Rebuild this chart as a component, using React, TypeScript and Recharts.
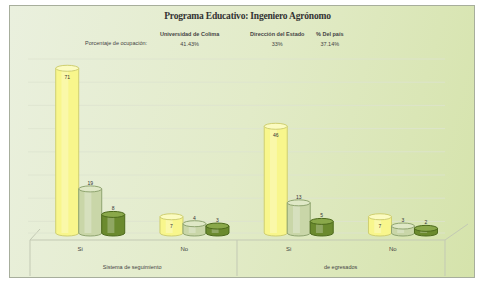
import { BarChart, Bar, XAxis, YAxis, CartesianGrid, LabelList } from "recharts";

const respuestas = ["Si", "No", "Si", "No"];
const grupos = ["Sistema de seguimiento", "", "de egresados", ""];
const universidad = [71, 7, 46, 7];
const estado = [19, 4, 13, 3];
const pais = [8, 3, 5, 2];

const leyenda = [
  { nombre: "Universidad de Colima", valor: "41.43%" },
  { nombre: "Dirección del Estado", valor: "33%" },
  { nombre: "% Del país", valor: "37.14%" },
];

const data = respuestas.map((r, i) => ({
  resp: r,
  grupo: grupos[i],
  universidad: universidad[i],
  estado: estado[i],
  pais: pais[i],
}));

const yTicks = Array.from({ length: 31 }, (_, i) => i * 2.5);

// perspective shift of the 3D bars relative to the category labels
const DX = 10;

const Cylinder = (colors: { body: string; edge: string; top: string }) => (props: any) => {
  const { y, width, height } = props;
  const x = props.x + DX;
  if (!height || height <= 0) return null;
  const rx = width / 2;
  const ry = Math.min(3, width / 6);
  const cx = x + rx;
  return (
    <g>
      <path
        d={`M${x},${y} L${x},${y + height} A${rx},${ry} 0 0 0 ${x + width},${y + height} L${x + width},${y} Z`}
        fill={colors.body}
        stroke={colors.edge}
        strokeWidth={1}
      />
      <rect x={x + width * 0.25} y={y} width={width * 0.3} height={height} fill="#ffffff" opacity={0.25} />
      <ellipse cx={cx} cy={y} rx={rx} ry={ry} fill={colors.top} stroke={colors.edge} strokeWidth={1} />
    </g>
  );
};

const yellow = { body: "#f8f68c", edge: "#cfcf70", top: "#fbfbc0" };
const light = { body: "#c9d6a8", edge: "#8fa470", top: "#dfe8c6" };
const dark = { body: "#6b8a2e", edge: "#4d6a1c", top: "#8aa84a" };

const RespTick = (props: any) => {
  const { x, y, payload } = props;
  return (
    <text x={x} y={y + 10} textAnchor="middle" fontSize={6} fill="#444" fontFamily="Liberation Sans">
      {payload.value}
    </text>
  );
};

const GrupoTick = (props: any) => {
  const { x, y, payload } = props;
  if (!payload.value) return null;
  return (
    <text x={x + 52} y={y + 8} textAnchor="middle" fontSize={5.5} fill="#444" fontFamily="Liberation Sans">
      {payload.value}
    </text>
  );
};

const ValueLabel = (props: any) => {
  const { x, y, width, value, inside } = props;
  return (
    <text
      x={x + DX + width / 2}
      y={inside ? y + 11 : y - 4}
      textAnchor="middle"
      fontSize={5}
      fill="#333"
      fontFamily="Liberation Sans"
    >
      {value}
    </text>
  );
};

export default function App() {
  return (
    <div style={{ position: "absolute", left: 0, top: 0, width: 479, height: 281, background: "#ffffff" }}>
      <div
        style={{
          position: "absolute",
          left: 9,
          top: 5,
          width: 464,
          height: 271,
          border: "1px solid #a7ae9c",
          background: "linear-gradient(105deg, #eaf0de 0%, #e2ebc8 50%, #d5e3ab 100%)",
        }}
      />
      <svg style={{ position: "absolute", left: 0, top: 0 }} width={479} height={281}>
        <g stroke="#c3c9b4" strokeWidth={1} fill="none">
          <path d="M30,240 L445,240 L468,224" />
          <path d="M30,240 L40,229" />
          <path d="M30,240 L30,276" />
          <path d="M237,240 L237,276" />
          <path d="M445,240 L445,276" />
        </g>
      </svg>
      <div style={{ position: "absolute", left: 0, top: 0 }}>
        <BarChart
          width={479}
          height={281}
          data={data}
          margin={{ top: 59, right: 34, bottom: 0, left: 28 }}
          barGap={0}
          barCategoryGap="17%"
        >
          <CartesianGrid vertical={false} stroke="#dde3cf" strokeWidth={0.8} />
          <YAxis hide domain={[0, 75]} ticks={yTicks} />
          <XAxis dataKey="resp" axisLine={false} tickLine={false} height={20} tick={<RespTick />} />
          <XAxis
            dataKey="grupo"
            xAxisId="g"
            axisLine={false}
            tickLine={false}
            height={28}
            tick={<GrupoTick />}
            interval={0}
          />
          <Bar dataKey="universidad" shape={Cylinder(yellow)} isAnimationActive={false}>
            <LabelList dataKey="universidad" content={(p: any) => <ValueLabel {...p} inside />} />
          </Bar>
          <Bar dataKey="estado" shape={Cylinder(light)} isAnimationActive={false}>
            <LabelList dataKey="estado" content={(p: any) => <ValueLabel {...p} />} />
          </Bar>
          <Bar dataKey="pais" shape={Cylinder(dark)} isAnimationActive={false}>
            <LabelList dataKey="pais" content={(p: any) => <ValueLabel {...p} />} />
          </Bar>
        </BarChart>
      </div>
      <div
        style={{
          position: "absolute",
          left: 0,
          width: 479,
          top: 11,
          textAlign: "center",
          fontFamily: "Liberation Serif",
          fontSize: 9.5,
          fontWeight: "bold",
          color: "#333",
          letterSpacing: -0.2,
        }}
      >
        <span style={{ position: "relative", left: 8 }}>Programa Educativo: Ingeniero Agrónomo</span>
      </div>
      <div
        style={{
          position: "absolute",
          left: 85,
          top: 40,
          fontFamily: "Liberation Sans",
          fontSize: 5.5,
          color: "#444",
        }}
      >
        Porcentaje de ocupación:
      </div>
      {leyenda.map((l, i) => (
        <div
          key={l.nombre}
          style={{
            position: "absolute",
            left: [160, 250, 316][i],
            top: 29,
            fontFamily: "Liberation Sans",
            fontSize: 5.5,
            color: "#444",
            textAlign: "center",
            lineHeight: "10px",
          }}
        >
          <div style={{ fontWeight: "bold" }}>{l.nombre}</div>
          <div>{l.valor}</div>
        </div>
      ))}
    </div>
  );
}
